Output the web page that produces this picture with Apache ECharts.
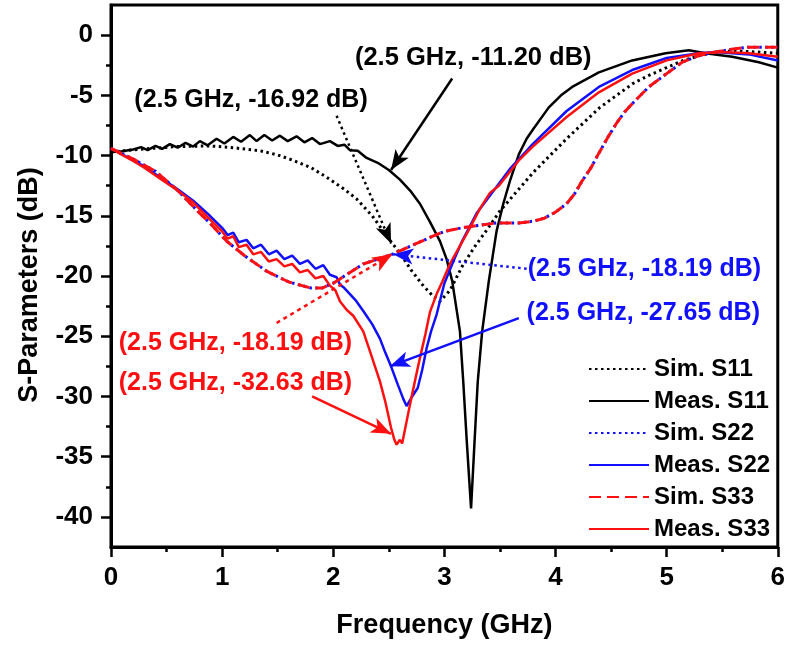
<!DOCTYPE html>
<html><head><meta charset="utf-8">
<script src="https://cdn.jsdelivr.net/npm/echarts@6/dist/echarts.min.js"></script>
<style>html,body{margin:0;padding:0;background:#fff}#c{width:788px;height:647px}</style>
</head><body><div id="c"></div>
<script>
const FONT = '"Liberation Sans", Arial, Helvetica, sans-serif';
const yMajorTicks = [0, -5, -10, -15, -20, -25, -30, -35, -40];
const yMinorTicks = [-2.5, -7.5, -12.5, -17.5, -22.5, -27.5, -32.5, -37.5];
const seriesNames = ['Sim. S11', 'Meas. S11', 'Sim. S22', 'Meas. S22', 'Sim. S33', 'Meas. S33'];

const simS11 = [[0,-9.7],[0.3,-9.45],[0.6,-9.25],[0.89,-9.2],[1.1,-9.35],[1.34,-9.6],[1.5,-9.95],[1.64,-10.4],[1.8,-11.0],[1.94,-11.8],[2.1,-12.8],[2.21,-13.6],[2.35,-15.0],[2.5,-16.9],[2.6,-18.1],[2.7,-19.5],[2.8,-20.7],[2.9,-21.7],[2.96,-22.1],[3.05,-21.2],[3.16,-19.2],[3.27,-17.6],[3.38,-16.2],[3.5,-14.6],[3.65,-13.0],[3.8,-11.4],[3.95,-10.0],[4.1,-8.6],[4.25,-7.3],[4.4,-6.0],[4.55,-5.0],[4.7,-4.0],[4.85,-3.3],[5.0,-2.7],[5.15,-2.1],[5.3,-1.7],[5.45,-1.4],[5.6,-1.3],[5.8,-1.4],[6.0,-1.5]];

const measS11 = [[0,-9.7],[0.1,-9.65],[0.2,-9.5],[0.27,-9.3],[0.33,-9.55],[0.4,-9.2],[0.46,-9.45],[0.53,-9.05],[0.6,-9.35],[0.67,-8.95],[0.74,-9.25],[0.8,-8.8],[0.87,-9.15],[0.95,-8.6],[1.02,-9.0],[1.1,-8.45],[1.17,-8.85],[1.25,-8.3],[1.31,-8.8],[1.38,-8.3],[1.45,-8.75],[1.52,-8.35],[1.59,-8.8],[1.67,-8.4],[1.74,-8.9],[1.81,-8.55],[1.88,-9.05],[1.97,-8.8],[2.04,-9.2],[2.1,-9.1],[2.15,-9.55],[2.22,-9.6],[2.3,-10.2],[2.4,-10.6],[2.5,-11.2],[2.6,-12.0],[2.7,-13.0],[2.78,-14.0],[2.87,-15.5],[2.96,-17.1],[3.02,-18.6],[3.07,-20.4],[3.14,-24.6],[3.17,-28.8],[3.2,-33.5],[3.24,-39.3],[3.27,-34.0],[3.3,-28.8],[3.34,-24.6],[3.4,-20.4],[3.47,-16.25],[3.53,-14.0],[3.59,-12.1],[3.67,-9.9],[3.74,-8.6],[3.8,-7.8],[3.94,-6.0],[4.05,-5.0],[4.15,-4.3],[4.39,-3.1],[4.69,-2.1],[4.99,-1.5],[5.2,-1.25],[5.35,-1.5],[5.59,-1.8],[5.83,-2.25],[6.0,-2.7]];

const simS22 = [[0,-9.4],[0.2,-10.3],[0.4,-11.3],[0.6,-12.9],[0.8,-14.8],[0.9,-15.7],[1.04,-17.1],[1.2,-18.3],[1.4,-19.6],[1.6,-20.5],[1.8,-21.0],[1.9,-21.0],[2.0,-20.6],[2.1,-20.0],[2.27,-19.0],[2.4,-18.6],[2.53,-18.2],[2.7,-17.5],[2.87,-16.8],[3.0,-16.3],[3.16,-16.0],[3.3,-15.8],[3.47,-15.6],[3.67,-15.6],[3.8,-15.45],[3.9,-15.2],[4.0,-14.7],[4.1,-14.0],[4.17,-13.2],[4.24,-12.1],[4.32,-11.0],[4.39,-9.8],[4.47,-8.5],[4.55,-7.3],[4.62,-6.4],[4.69,-5.7],[4.84,-4.3],[5.0,-3.2],[5.14,-2.25],[5.29,-1.7],[5.44,-1.4],[5.6,-1.15],[5.74,-1.0],[6.0,-1.0]];

const measS22 = [[0,-9.4],[0.1,-9.9],[0.2,-10.4],[0.3,-10.9],[0.44,-11.8],[0.6,-12.8],[0.74,-13.75],[0.89,-15.0],[1.0,-16.0],[1.05,-16.6],[1.1,-16.4],[1.15,-17.2],[1.22,-17.0],[1.28,-17.7],[1.35,-17.4],[1.42,-18.2],[1.49,-17.9],[1.56,-18.6],[1.63,-18.3],[1.7,-19.0],[1.77,-18.7],[1.84,-19.4],[1.91,-19.1],[1.97,-19.9],[2.03,-20.1],[2.06,-20.7],[2.1,-21.0],[2.15,-21.5],[2.2,-22.0],[2.27,-22.9],[2.35,-24.0],[2.42,-25.2],[2.47,-26.4],[2.52,-27.5],[2.58,-29.0],[2.63,-30.2],[2.66,-30.8],[2.71,-30.0],[2.76,-29.3],[2.8,-27.8],[2.84,-26.0],[2.88,-24.6],[2.93,-23.2],[3.0,-20.6],[3.08,-18.8],[3.16,-17.1],[3.29,-14.8],[3.47,-12.6],[3.6,-11.0],[3.74,-9.6],[3.79,-9.1],[4.1,-6.3],[4.39,-4.3],[4.69,-2.9],[5.0,-1.9],[5.29,-1.5],[5.44,-1.4],[5.74,-1.6],[6.0,-2.1]];

const simS33 = [[0,-9.4],[0.2,-10.3],[0.4,-11.3],[0.6,-12.9],[0.8,-14.8],[0.9,-15.7],[1.04,-17.1],[1.2,-18.3],[1.4,-19.6],[1.6,-20.5],[1.8,-21.0],[1.9,-21.0],[2.0,-20.6],[2.1,-20.0],[2.27,-19.0],[2.4,-18.6],[2.53,-18.2],[2.7,-17.5],[2.87,-16.8],[3.0,-16.3],[3.16,-16.0],[3.3,-15.8],[3.47,-15.6],[3.67,-15.6],[3.8,-15.45],[3.9,-15.2],[4.0,-14.7],[4.1,-14.0],[4.17,-13.2],[4.24,-12.1],[4.32,-11.0],[4.39,-9.8],[4.47,-8.5],[4.55,-7.3],[4.62,-6.4],[4.69,-5.7],[4.84,-4.3],[5.0,-3.2],[5.14,-2.25],[5.29,-1.7],[5.44,-1.4],[5.6,-1.15],[5.74,-1.0],[6.0,-1.0]];

const measS33 = [[0,-9.4],[0.1,-9.95],[0.2,-10.45],[0.3,-11.0],[0.44,-11.9],[0.6,-12.9],[0.74,-13.9],[0.89,-15.3],[1.0,-16.3],[1.05,-16.9],[1.1,-16.7],[1.15,-17.6],[1.22,-17.4],[1.28,-18.2],[1.35,-18.0],[1.42,-18.8],[1.49,-18.6],[1.56,-19.2],[1.63,-19.0],[1.7,-19.7],[1.77,-19.5],[1.84,-20.2],[1.91,-20.0],[1.97,-20.8],[2.02,-21.2],[2.06,-22.1],[2.12,-22.8],[2.18,-23.3],[2.27,-24.6],[2.35,-26.8],[2.42,-28.75],[2.47,-30.5],[2.52,-32.6],[2.55,-33.6],[2.57,-34.0],[2.6,-33.6],[2.62,-33.9],[2.64,-33.0],[2.69,-30.7],[2.74,-28.5],[2.78,-26.8],[2.83,-24.8],[2.87,-23.0],[2.93,-21.5],[2.98,-20.5],[3.05,-19.0],[3.14,-17.5],[3.23,-16.0],[3.32,-14.4],[3.41,-13.1],[3.49,-12.5],[3.67,-10.4],[3.79,-9.3],[4.1,-6.8],[4.39,-4.75],[4.69,-3.2],[5.0,-2.1],[5.29,-1.5],[5.5,-1.4],[5.74,-1.5],[6.0,-1.8]];

// annotation texts, anchor (text centre), arrow start, arrow tip (data coords)
const noteTexts = ['(2.5 GHz, -16.92 dB)', '(2.5 GHz, -11.20 dB)', '(2.5 GHz, -18.19 dB)', '(2.5 GHz, -27.65 dB)', '(2.5 GHz, -18.19 dB)', '(2.5 GHz, -32.63 dB)'];
const noteAnchors = [[1.26,-5.4],[3.26,-1.9],[4.8,-19.4],[4.79,-23.1],[1.12,-25.6],[1.12,-28.9]];
const arrowStarts = [[2.03,-6.7],[3.07,-3.6],[3.74,-19.4],[3.67,-23.5],[1.49,-23.9],[1.81,-30.0]];
const arrowTips = [[2.52,-17.3],[2.52,-11.2],[2.54,-18.2],[2.51,-27.5],[2.53,-18.2],[2.52,-33.1]];

const colors = ['#000000','#000000','#1010ff','#1010ff','#ff1010','#ff1010'];
const dashes = [[2.5,3.5], 'solid', [2.5,3.5], 'solid', [12,6], 'solid'];
const widths = [3, 2.5, 3, 2.5, 3, 2.5];
const arrowDash = [[2.5,3.5], 'solid', [2.5,3.5], 'solid', [4,4], 'solid'];
const datasets = [simS11, measS11, simS22, measS22, simS33, measS33];

const chart = echarts.init(document.getElementById('c'), null, {renderer: 'canvas'});

const series = seriesNames.map((name, i) => ({
  name, type: 'line', data: datasets[i], showSymbol: false, symbol: 'none',
  smooth: false, animation: false, silent: true,
  lineStyle: {color: colors[i], width: widths[i], type: dashes[i]},
  itemStyle: {color: colors[i]},
  markLine: {
    silent: true, animation: false,
    symbol: ['none', 'arrow'], symbolSize: [12, 20],
    label: {show: false},
    lineStyle: {color: colors[i], width: 2.5, type: arrowDash[i]},
    data: [[{coord: arrowStarts[i]}, {coord: arrowTips[i]}]]
  },
  markPoint: {
    silent: true, animation: false,
    symbol: 'rect', symbolSize: 1, itemStyle: {color: 'rgba(0,0,0,0)'},
    label: {show: true, position: 'inside', formatter: noteTexts[i],
      color: colors[i], fontSize: i === 1 ? 25.5 : 25, fontWeight: 'bold', fontFamily: FONT},
    data: [{coord: noteAnchors[i]}]
  }
}));

chart.setOption({
  animation: false,
  backgroundColor: '#fff',
  grid: {left: 111, right: 9, top: 5, bottom: 100, show: true, borderColor: '#000', borderWidth: 3, backgroundColor: 'transparent'},
  legend: {
    orient: 'vertical', left: 583, top: 352, itemWidth: 60, itemHeight: 14, itemGap: 8,
    data: seriesNames,
    itemStyle: {opacity: 0},
    textStyle: {fontSize: 24, fontWeight: 'bold', fontFamily: FONT, color: '#000', lineHeight: 24},
    selectedMode: false
  },
  xAxis: {
    type: 'value', min: 0, max: 6, interval: 1,
    name: 'Frequency (GHz)', nameLocation: 'middle', nameGap: 65,
    nameTextStyle: {fontSize: 27, fontWeight: 'bold', fontFamily: FONT, color: '#000'},
    axisLine: {show: true, onZero: false, lineStyle: {color: '#000', width: 3}},
    axisTick: {show: true, inside: false, length: 10, lineStyle: {color: '#000', width: 2.5}},
    minorTick: {show: true, splitNumber: 2, length: 5, lineStyle: {color: '#000', width: 2.5}},
    axisLabel: {fontSize: 26, fontWeight: 'bold', fontFamily: FONT, color: '#000', margin: 18},
    splitLine: {show: false}
  },
  yAxis: [{
    type: 'value', min: -42.5, max: 2.5,
    name: 'S-Parameters (dB)', nameLocation: 'middle', nameGap: 68,
    nameTextStyle: {fontSize: 27, fontWeight: 'bold', fontFamily: FONT, color: '#000', padding: [0, 0, 0, -18]},
    axisLine: {show: true, onZero: false, lineStyle: {color: '#000', width: 3}},
    axisTick: {show: true, inside: false, length: 10, customValues: yMajorTicks, lineStyle: {color: '#000', width: 2.5}},
    axisLabel: {customValues: yMajorTicks, fontSize: 26, fontWeight: 'bold', fontFamily: FONT, color: '#000', margin: 18},
    splitLine: {show: false}
  }, {
    type: 'value', min: -42.5, max: 2.5, position: 'left', offset: 0,
    axisLine: {show: false},
    axisTick: {show: true, inside: false, length: 5, customValues: yMinorTicks, lineStyle: {color: '#000', width: 2.5}},
    axisLabel: {show: false},
    splitLine: {show: false}
  }],
  series
});
</script></body></html>
